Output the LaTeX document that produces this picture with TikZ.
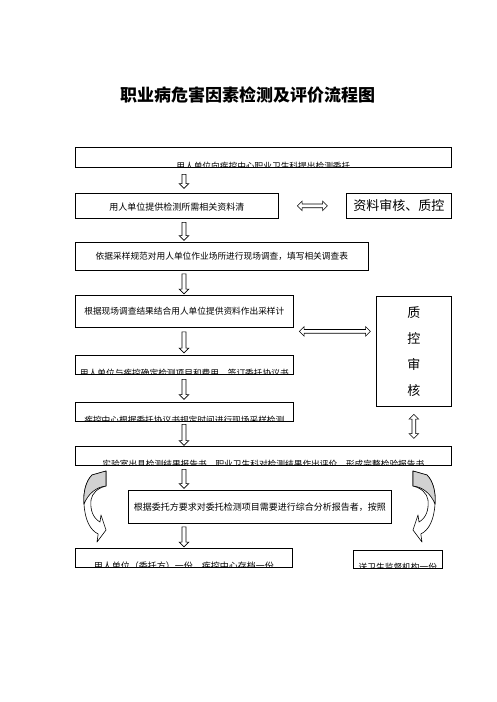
\documentclass[tikz,border=0pt]{standalone}
\usepackage{fontspec}
\newfontfamily\cjk{Noto Sans CJK SC}
\usetikzlibrary{shapes.arrows,calc}

% curved block arrow beside the report box
\newcommand\bendarrow{%
  \filldraw[fill=white, line width=0.6pt, line join=round]
    (92,475) .. controls (86,481) and (83,492) .. (84,504)
    .. controls (85,520) and (90,530) .. (98.2,534)
    -- (97,542) -- (106,530) -- (101,515) -- (100,522)
    .. controls (93,518) and (90,510) .. (91,500)
    .. controls (92,493) and (98,488) .. (106,486)
    -- (106,471) -- cycle;
  \filldraw[fill=gray!35, line width=0.6pt, line join=round]
    (92,475) -- (106,471) -- (106,486)
    .. controls (96,487) and (88,494) .. (84,504)
    .. controls (83,492) and (86,481) .. (92,475) -- cycle;
}

\begin{document}
\begin{tikzpicture}[x=1pt,y=-1pt]
\tikzstyle{box}=[draw, line width=0.7pt, inner sep=0pt, anchor=north west]
\tikzstyle{txt}=[font=\cjk\fontsize{8.7}{10}\selectfont, inner sep=0pt]
\tikzstyle{wtxt}=[font=\cjk\fontsize{9}{11}\selectfont, inner sep=0pt]
\tikzstyle{bigtxt}=[font=\cjk\fontsize{13}{26}\selectfont, inner sep=0pt, align=center]
\tikzstyle{downarr}=[draw, fill=white, line width=0.6pt, single arrow, single arrow head extend=2.8pt, inner sep=1.7pt, rotate=-90]
\tikzstyle{botharr}=[draw, fill=white, line width=0.6pt, double arrow, double arrow head extend=2.8pt, inner sep=1.6pt]

\useasboundingbox (0,0) rectangle (496,702);
\fill[white] (0,0) rectangle (496,702);

\node[font=\cjk\bfseries\fontsize{17}{20}\selectfont] (title) at (247.5,95) {职业病危害因素检测及评价流程图};

% left column
\node[box, minimum width=376pt, minimum height=20pt] (b1) at (75,147) {};
\begin{scope}
\clip (b1.south west) rectangle (b1.north east);
\node[txt] (t1) at ([yshift=1.5pt]b1.south) {用人单位向疾控中心职业卫生科提出检测委托};
\end{scope}

\node[box, minimum width=203pt, minimum height=25pt] (b2) at (75,193) {};
\node[wtxt] (t2) at ([yshift=-1pt]b2.center) {用人单位提供检测所需相关资料清};

\node[box, minimum width=293pt, minimum height=28pt] (b3) at (75,242) {};
\node[txt] (t3) at (b3.center) {依据采样规范对用人单位作业场所进行现场调查，填写相关调查表};

\node[box, minimum width=218pt, minimum height=32pt] (b4) at (75,295) {};
\node[txt] (t4) at (b4.center) {根据现场调查结果结合用人单位提供资料作出采样计};

\node[box, minimum width=218pt, minimum height=19pt] (b5) at (75,355) {};
\begin{scope}
\clip (b5.south west) rectangle (b5.north east);
\node[txt] (t5) at ([yshift=1.5pt]b5.south) {用人单位与疾控确定检测项目和费用，签订委托协议书};
\end{scope}

\node[box, minimum width=218pt, minimum height=19pt] (b6) at (75,402) {};
\begin{scope}
\clip (b6.south west) rectangle (b6.north east);
\node[txt] (t6) at ([yshift=1.5pt]b6.south) {疾控中心根据委托协议书规定时间进行现场采样检测};
\end{scope}

\node[box, minimum width=376pt, minimum height=19pt] (b7) at (75,446) {};
\begin{scope}
\clip (b7.south west) rectangle (b7.north east);
\node[txt] (t7) at ([yshift=1.5pt]b7.south) {实验室出具检测结果报告书，职业卫生科对检测结果作出评价，形成完整检验报告书};
\end{scope}

\node[box, minimum width=263pt, minimum height=33pt] (b8) at (128,490) {};
\node[wtxt] (t8) at (b8.center) {根据委托方要求对委托检测项目需要进行综合分析报告者，按照};

\node[box, minimum width=217pt, minimum height=19pt] (b9) at (75,548) {};
\begin{scope}
\clip (b9.south west) rectangle (b9.north east);
\node[wtxt] (t9) at ([yshift=1.5pt]b9.south) {用人单位（委托方）一份，疾控中心存档一份};
\end{scope}

\node[box, minimum width=89pt, minimum height=18pt] (b10) at (353,550) {};
\begin{scope}
\clip (b10.south west) rectangle (b10.north east);
\node[txt] (t10) at ([yshift=1.5pt]b10.south) {送卫生监督机构一份};
\end{scope}

% quality control
\node[box, minimum width=105pt, minimum height=25pt] (q1) at (346,193) {};
\node[bigtxt] (tq1) at (q1.center) {资料审核、质控};

\node[box, minimum width=75pt, minimum height=110pt] (q2) at (376,296) {};
\node[bigtxt] (tq2) at (q2.center) {质\\控\\审\\核};

% block arrows
\coordinate (ax) at (184,0);
\foreach \u/\v/\l in {b1/b2/14, b2/b3/18, b3/b4/20, b4/b5/21, b5/b6/20, b6/b7/21, b7/b8/19, b8/b9/20}
  \node[downarr, minimum height=\l pt] at ($(\u.south -| ax)!0.5!(\v.north -| ax)$) {};

\node[botharr, minimum height=30pt] (d1) at ($(b2.east)!0.5!(q1.west)$) {};
\node[botharr, minimum height=71pt] (d2) at ($(b4.east)!0.5!(q2.west)$) {};
\node[botharr, minimum height=24pt, rotate=90] (d3) at ($(q2.south)!0.5!(b7.north -| q2.south)$) {};

% curved arrows
\bendarrow
\begin{scope}[shift={(519,0)}, xscale=-1]
\bendarrow
\end{scope}
\end{tikzpicture}
\end{document}
